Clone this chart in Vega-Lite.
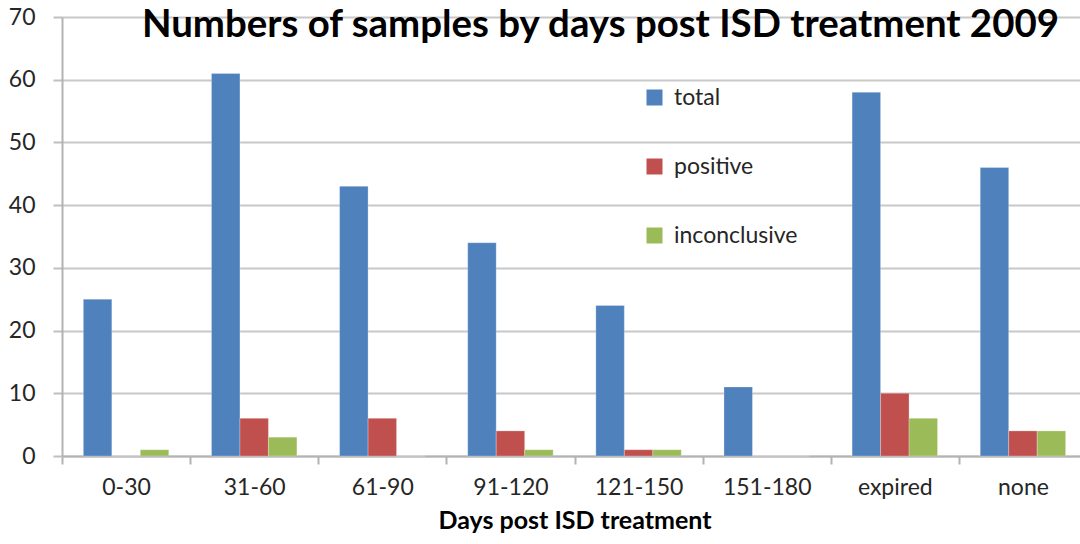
{
  "$schema": "https://vega.github.io/schema/vega-lite/v6.json",
  "width": 1018,
  "height": 439,
  "autosize": {"type": "none"},
  "padding": {"left": 62, "top": 17, "right": 0, "bottom": 88},
  "background": "white",
  "title": {
    "text": "Numbers of samples by days post ISD treatment 2009",
    "anchor": "start",
    "frame": "group",
    "dx": 80,
    "offset": -69,
    "baseline": "alphabetic",
    "font": "Lato",
    "fontSize": 38.4,
    "fontWeight": "bold",
    "color": "#000000"
  },
  "data": {
    "values": [
      {"days": "0-30", "series": "total", "count": 25},
      {"days": "0-30", "series": "positive", "count": 0},
      {"days": "0-30", "series": "inconclusive", "count": 1},
      {"days": "31-60", "series": "total", "count": 61},
      {"days": "31-60", "series": "positive", "count": 6},
      {"days": "31-60", "series": "inconclusive", "count": 3},
      {"days": "61-90", "series": "total", "count": 43},
      {"days": "61-90", "series": "positive", "count": 6},
      {"days": "61-90", "series": "inconclusive", "count": 0},
      {"days": "91-120", "series": "total", "count": 34},
      {"days": "91-120", "series": "positive", "count": 4},
      {"days": "91-120", "series": "inconclusive", "count": 1},
      {"days": "121-150", "series": "total", "count": 24},
      {"days": "121-150", "series": "positive", "count": 1},
      {"days": "121-150", "series": "inconclusive", "count": 1},
      {"days": "151-180", "series": "total", "count": 11},
      {"days": "151-180", "series": "positive", "count": 0},
      {"days": "151-180", "series": "inconclusive", "count": 0},
      {"days": "expired", "series": "total", "count": 58},
      {"days": "expired", "series": "positive", "count": 10},
      {"days": "expired", "series": "inconclusive", "count": 6},
      {"days": "none", "series": "total", "count": 46},
      {"days": "none", "series": "positive", "count": 4},
      {"days": "none", "series": "inconclusive", "count": 4}
    ]
  },
  "mark": {"type": "bar", "stroke": "#ffffff", "strokeOpacity": 0.25, "strokeWidth": 1},
  "encoding": {
    "x": {
      "field": "days",
      "type": "nominal",
      "sort": ["0-30", "31-60", "61-90", "91-120", "121-150", "151-180", "expired", "none"],
      "scale": {"range": [0, 1025], "paddingInner": 0, "paddingOuter": 0},
      "axis": {
        "title": "Days post ISD treatment",
        "titleFont": "Lato",
        "titleFontSize": 25,
        "titleFontWeight": "bold",
        "titleColor": "#000000",
        "titlePadding": 9,
        "labelAngle": 0,
        "labelFont": "Lato",
        "labelFontSize": 23,
        "labelColor": "#262626",
        "labelPadding": 12,
        "tickBand": "extent",
        "ticks": true,
        "tickSize": 8,
        "tickColor": "#b3b3b3",
        "tickWidth": 2,
        "domainColor": "#b3b3b3",
        "domainWidth": 2,
        "grid": false
      }
    },
    "xOffset": {
      "field": "series",
      "sort": ["total", "positive", "inconclusive"],
      "scale": {"paddingInner": 0, "paddingOuter": 0.75}
    },
    "y": {
      "field": "count",
      "type": "quantitative",
      "scale": {"domain": [0, 70], "nice": false},
      "axis": {
        "title": null,
        "values": [0, 10, 20, 30, 40, 50, 60, 70],
        "labelFont": "Lato",
        "labelFontSize": 23,
        "labelColor": "#262626",
        "labelPadding": 18,
        "tickSize": 9,
        "tickColor": "#bfbfbf",
        "tickWidth": 2,
        "domainColor": "#b3b3b3",
        "domainWidth": 2,
        "grid": true,
        "gridColor": "#c8c8c8",
        "gridWidth": 2
      }
    },
    "color": {
      "field": "series",
      "type": "nominal",
      "scale": {"domain": ["total", "positive", "inconclusive"], "range": ["#4f81bd", "#c0504d", "#9bbb59"]},
      "legend": {
        "title": null,
        "orient": "none",
        "legendX": 581,
        "legendY": 69,
        "symbolType": "square",
        "symbolSize": 256,
        "symbolStrokeWidth": 0,
        "labelFont": "Lato",
        "labelFontSize": 23,
        "labelColor": "#262626",
        "labelOffset": 8,
        "rowPadding": 45
      }
    }
  },
  "config": {"view": {"stroke": null}}
}
